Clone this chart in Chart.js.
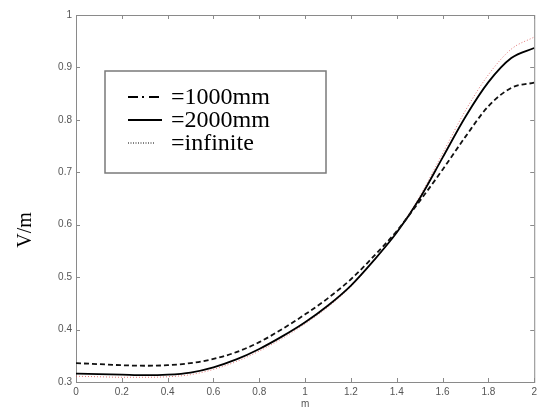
<!DOCTYPE html>
<html lang="en">
<head>
  <meta charset="UTF-8">
  <title>V/m vs m</title>
  <script src="https://cdn.jsdelivr.net/npm/chart.js"></script>
  <style>
    html, body { margin: 0; padding: 0; background: #fff; }
    #wrap { width: 541px; height: 410px; position: relative; }
  </style>
</head>
<body>
  <div id="wrap"><canvas id="chart"></canvas></div>

  <script>
    // values
    const xValues = [0, 0.1, 0.2, 0.3, 0.4, 0.5, 0.6, 0.7, 0.8, 0.9, 1.0,
                     1.1, 1.2, 1.3, 1.4, 1.5, 1.6, 1.7, 1.8, 1.9, 2.0];
    const series1000 = [0.336, 0.334, 0.332, 0.331, 0.332, 0.336, 0.344, 0.357, 0.376, 0.401, 0.429,
                        0.460, 0.496, 0.540, 0.588, 0.645, 0.705, 0.768, 0.826, 0.861, 0.871];
    const series2000 = [0.316, 0.315, 0.314, 0.313, 0.314, 0.318, 0.328, 0.343, 0.363, 0.387, 0.414,
                        0.446, 0.484, 0.532, 0.585, 0.650, 0.728, 0.806, 0.872, 0.918, 0.937];
    const seriesInf = [0.311, 0.310, 0.309, 0.309, 0.310, 0.314, 0.324, 0.339, 0.359, 0.383, 0.411,
                       0.443, 0.482, 0.531, 0.586, 0.654, 0.736, 0.818, 0.886, 0.935, 0.958];
    const seriesLabels = ['=1000mm', '=2000mm', '=infinite'];
    const yTitle = 'V/m';
    const xTitle = 'm';

    const toPoints = arr => arr.map((v, i) => ({ x: xValues[i], y: v }));

    // frame with inward ticks on all four sides (matlab style)
    const framePlugin = {
      id: 'frame',
      beforeDatasetsDraw(chart) {
        const { ctx, chartArea: a, scales } = chart;
        ctx.save();
        ctx.strokeStyle = '#8a8a8a';
        ctx.lineWidth = 1;
        ctx.strokeRect(a.left + 0.5, a.top + 0.5, a.right - a.left, a.bottom - a.top);
        const len = 4;
        ctx.beginPath();
        scales.x.ticks.forEach(t => {
          const px = Math.round(scales.x.getPixelForValue(t.value)) + 0.5;
          ctx.moveTo(px, a.bottom); ctx.lineTo(px, a.bottom - len);
          ctx.moveTo(px, a.top); ctx.lineTo(px, a.top + len);
        });
        scales.y.ticks.forEach(t => {
          const py = Math.round(scales.y.getPixelForValue(t.value)) + 0.5;
          ctx.moveTo(a.left, py); ctx.lineTo(a.left + len, py);
          ctx.moveTo(a.right, py); ctx.lineTo(a.right - len, py);
        });
        ctx.stroke();
        ctx.restore();
      },
      afterDraw(chart) {
        const { ctx } = chart;
        // y axis title, a bit under the middle as in the original
        ctx.save();
        ctx.translate(26, 230);
        ctx.rotate(-Math.PI / 2);
        ctx.fillStyle = '#000';
        ctx.font = '20px "Liberation Serif", "Times New Roman", serif';
        ctx.textAlign = 'center';
        ctx.textBaseline = 'middle';
        ctx.fillText(yTitle, 0, 0);
        ctx.restore();

        // legend box
        ctx.save();
        ctx.fillStyle = '#fff';
        ctx.fillRect(105, 71, 221, 102);
        ctx.strokeStyle = '#7a7a7a';
        ctx.lineWidth = 1.5;
        ctx.strokeRect(105, 71, 221, 102);
        ctx.font = '24px "Liberation Serif", "Times New Roman", serif';
        ctx.textBaseline = 'middle';
        chart.data.datasets.forEach((ds, i) => {
          const y = 97 + i * 23;
          ctx.beginPath();
          ctx.setLineDash(ds.legendDash);
          ctx.lineWidth = ds.legendWidth;
          ctx.strokeStyle = '#000';
          ctx.moveTo(128, y);
          ctx.lineTo(ds.legendEnd, y);
          ctx.stroke();
          ctx.setLineDash([]);
          ctx.fillStyle = '#000';
          ctx.fillText(ds.label, 171, y + 1);
        });
        ctx.restore();
      }
    };

    const tickFont = { family: '"Liberation Sans", Arial, sans-serif', size: 10 };

    new Chart(document.getElementById('chart'), {
      type: 'line',
      data: {
        datasets: [
          {
            label: seriesLabels[0], data: toPoints(series1000),
            borderColor: '#111', borderWidth: 1.8, borderDash: [5, 3],
            pointRadius: 0, cubicInterpolationMode: 'monotone', fill: false,
            legendDash: [10, 4, 2, 5], legendWidth: 1.8, legendEnd: 160
          },
          {
            label: seriesLabels[1], data: toPoints(series2000),
            borderColor: '#000', borderWidth: 1.8,
            pointRadius: 0, cubicInterpolationMode: 'monotone', fill: false,
            legendDash: [], legendWidth: 2, legendEnd: 162
          },
          {
            label: seriesLabels[2], data: toPoints(seriesInf),
            borderColor: 'rgba(215, 70, 70, 0.75)', borderWidth: 1, borderDash: [1, 2],
            pointRadius: 0, cubicInterpolationMode: 'monotone', fill: false,
            legendDash: [1, 1.5], legendWidth: 1, legendEnd: 155
          }
        ]
      },
      options: {
        responsive: true,
        maintainAspectRatio: false,
        animation: false,
        layout: { padding: { top: 15, right: 5, left: 0, bottom: 0 } },
        plugins: {
          legend: { display: false },
          tooltip: { enabled: false }
        },
        scales: {
          x: {
            type: 'linear', min: 0, max: 2,
            grid: { display: false, drawTicks: false },
            border: { display: false },
            ticks: {
              stepSize: 0.2, padding: 4, color: '#555', font: tickFont,
              maxRotation: 0,
              callback: v => String(+v.toFixed(1))
            },
            title: { display: true, text: xTitle, color: '#555', font: tickFont, padding: 0 },
            afterFit: s => { s.height = 28; }
          },
          y: {
            type: 'linear', min: 0.3, max: 1,
            grid: { display: false, drawTicks: false },
            border: { display: false },
            ticks: {
              stepSize: 0.1, padding: 4, color: '#555', font: tickFont,
              callback: v => String(+v.toFixed(1))
            },
            afterFit: s => { s.width = 76; }
          }
        }
      },
      plugins: [framePlugin]
    });
  </script>
</body>
</html>
